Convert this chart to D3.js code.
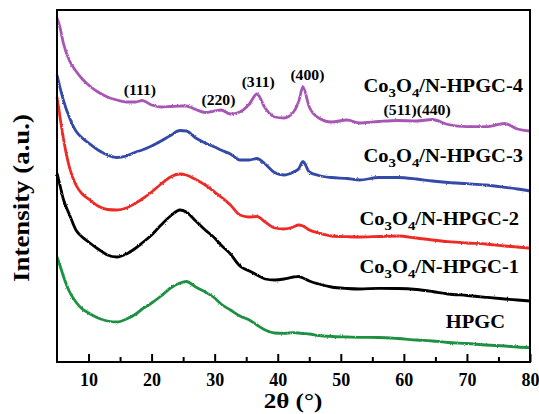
<!DOCTYPE html>
<html>
<head>
<meta charset="utf-8">
<script src="https://cdn.jsdelivr.net/npm/d3@7"></script>
<style>
  body { margin: 0; background: #fff; }
  svg text { font-family: "Liberation Serif", "Times New Roman", serif; font-weight: bold; }
</style>
</head>
<body>
<div id="chart"></div>
<script>
// 2theta grid (deg)
var twoTheta = [5, 5.5, 6, 7, 8, 9, 10, 11.5, 13, 14.5,
    16, 17.5, 18.5, 20, 21.5, 23, 24.5, 25.5, 27, 28.5,
    30, 31, 32.5, 34, 35.5, 36.7, 38, 39.5, 41, 42.5,
    43.3, 44, 45, 46.5, 48.5, 51, 53, 56, 59, 62,
    64.5, 67, 70, 73, 76, 78, 80];

// intensities (a.u., stacked offsets included)
var hpgc = [105, 96, 86, 70, 60, 53, 49, 44, 41, 40,
    43, 48, 53, 59, 66, 74, 79, 80.5, 75, 70,
    64, 58, 52, 46, 42, 37, 32, 29, 28.7, 29.3,
    29, 28.5, 28, 26.5, 25.5, 25, 24.7, 24.5, 23.5, 22,
    21, 19.5, 18.5, 17, 16, 15, 14.3];
var nhpgc1 = [189, 176, 163, 147, 132, 125, 120, 113, 107, 105,
    108, 114, 119, 127, 137, 146, 152, 150, 141, 132,
    124, 117, 108, 96, 91, 87, 83, 82, 83, 85,
    85.5, 84, 81, 78, 75, 73.5, 73, 73.7, 73.5, 72.5,
    70.5, 68, 66.5, 64.7, 63, 62, 61];
var nhpgc2 = [265, 244, 224, 194, 177, 168, 163, 156, 152.5, 152,
    154, 159, 163, 170, 178, 185, 188, 187, 182.5, 177,
    170, 165, 157, 147, 145, 145.5, 140, 134, 133, 135,
    137, 136, 132, 129, 126, 125.3, 125, 125.5, 126, 124,
    122, 120.3, 119, 118, 116, 115, 113.7];
var nhpgc3 = [287, 274, 262, 244, 231, 224, 219, 212, 207, 204.5,
    206, 210, 212, 216, 221, 226.5, 231.5, 231, 224, 219,
    215, 212, 208, 202, 202, 203.5, 198, 189.5, 187, 190,
    193, 200.5, 190, 186.5, 184.5, 183.5, 182, 184.5, 184.5, 183,
    181, 179.5, 178.3, 177, 174.7, 173, 171];
var nhpgc4 = [344, 334, 319, 301, 291, 283, 277, 270, 265, 262,
    260, 260, 261.5, 257, 255, 255.5, 256, 256, 252.5, 249.5,
    251, 252, 248, 250, 258, 268, 254, 245, 244, 250,
    260, 275, 255, 244, 240, 242, 239, 240.5, 241.5, 241,
    242.5, 237.5, 235.3, 235.3, 238.5, 233, 231];

var seriesNames = ["HPGC", "Co3O4/N-HPGC-1", "Co3O4/N-HPGC-2", "Co3O4/N-HPGC-3", "Co3O4/N-HPGC-4"];
var seriesValues = [hpgc, nhpgc1, nhpgc2, nhpgc3, nhpgc4];
var seriesColors = ["#1f9143", "#000000", "#ee2b25", "#3449a6", "#a857b3"];

var xTicks = [10, 20, 30, 40, 50, 60, 70, 80];
var xMinorTicks = [15, 25, 35, 45, 55, 65, 75];

// Co3O4 reflections marked on the top curve
var peakNames = ["(111)", "(220)", "(311)", "(400)", "(511)(440)"];
var peakTheta = [18.15, 30.6, 36.9, 44.7, 62.1];
var peakLevel = [267, 257, 275, 282, 247];

var margin = {top: 10, right: 9, bottom: 52, left: 57};
var width = 539 - margin.left - margin.right;
var height = 414 - margin.top - margin.bottom;

var svg = d3.select("#chart").append("svg")
    .attr("width", 539).attr("height", 414);

// grainy look for the scans
var defs = svg.append("defs");
var filt = defs.append("filter").attr("id", "grain")
    .attr("x", "-2%").attr("y", "-5%").attr("width", "104%").attr("height", "110%");
filt.append("feTurbulence").attr("type", "fractalNoise")
    .attr("baseFrequency", "1.4 0.9").attr("numOctaves", 1).attr("seed", 3).attr("result", "n");
filt.append("feDisplacementMap").attr("in", "SourceGraphic").attr("in2", "n")
    .attr("scale", 2.4).attr("xChannelSelector", "R").attr("yChannelSelector", "G");

var g = svg.append("g")
    .attr("transform", "translate(" + margin.left + "," + margin.top + ")");

var xScale = d3.scaleLinear().domain([5, 80]).range([0, width]);
var yScale = d3.scaleLinear().domain([0, 352]).range([height, 0]);

var line = d3.line()
    .x(function(d, i) { return xScale(twoTheta[i]); })
    .y(function(d) { return yScale(d); })
    .curve(d3.curveMonotoneX);

for (var s = 0; s < seriesValues.length; s++) {
    g.append("path")
        .datum(seriesValues[s])
        .attr("d", line)
        .attr("fill", "none")
        .attr("stroke", seriesColors[s])
        .attr("stroke-width", 2.8)
        .attr("filter", "url(#grain)");
}

// frame
g.append("rect")
    .attr("width", width).attr("height", height)
    .attr("fill", "none").attr("stroke", "#000").attr("stroke-width", 2);

// bottom axis, ticks pointing in
var xAxis = g.append("g")
    .attr("transform", "translate(0," + height + ")")
    .call(d3.axisBottom(xScale).tickValues(xTicks).tickSizeInner(-8).tickSizeOuter(0).tickPadding(11));
xAxis.select(".domain").remove();
xAxis.selectAll(".tick line").attr("stroke-width", 2);
xAxis.selectAll(".tick text")
    .attr("font-size", 18)
    .attr("fill", "#000");

g.append("g")
    .attr("transform", "translate(0," + height + ")")
    .call(d3.axisBottom(xScale).tickValues(xMinorTicks).tickSizeInner(-5).tickSizeOuter(0).tickFormat(""))
    .call(function(a) { a.select(".domain").remove(); a.selectAll(".tick line").attr("stroke-width", 2); });

// axis titles
svg.append("text")
    .attr("transform", "translate(293,408) scale(1.14,1)")
    .attr("text-anchor", "middle")
    .attr("font-size", 22)
    .text("2θ (°)");

svg.append("text")
    .attr("transform", "translate(29,198) rotate(-90) scale(1.12,1)")
    .attr("text-anchor", "middle")
    .attr("font-size", 24)
    .text("Intensity (a.u.)");

// series labels with subscripts
var labelX = [505, 519, 519, 523, 523];
var labelY = [328, 273, 225, 162, 92];
function addName(x, y, name) {
    var t = svg.append("text")
        .attr("transform", "translate(" + x + "," + y + ") scale(1.14,1)")
        .attr("text-anchor", "end")
        .attr("font-size", 18);
    var m = name.match(/^(Co)(3)(O)(4)(.*)$/);
    if (!m) { t.text(name); return; }
    t.append("tspan").text(m[1]);
    t.append("tspan").attr("dy", 5).attr("font-size", 13).text(m[2]);
    t.append("tspan").attr("dy", -5).text(m[3]);
    t.append("tspan").attr("dy", 5).attr("font-size", 13).text(m[4]);
    t.append("tspan").attr("dy", -5).text(m[5]);
}
for (var k = 0; k < seriesNames.length; k++) {
    addName(labelX[k], labelY[k], seriesNames[k]);
}

// reflection labels
for (var p = 0; p < peakNames.length; p++) {
    svg.append("text")
        .attr("transform", "translate(" + (margin.left + xScale(peakTheta[p])) + "," +
              (margin.top + yScale(peakLevel[p])) + ") scale(1.12,1)")
        .attr("text-anchor", "middle")
        .attr("font-size", 14)
        .text(peakNames[p]);
}
</script>
</body>
</html>
